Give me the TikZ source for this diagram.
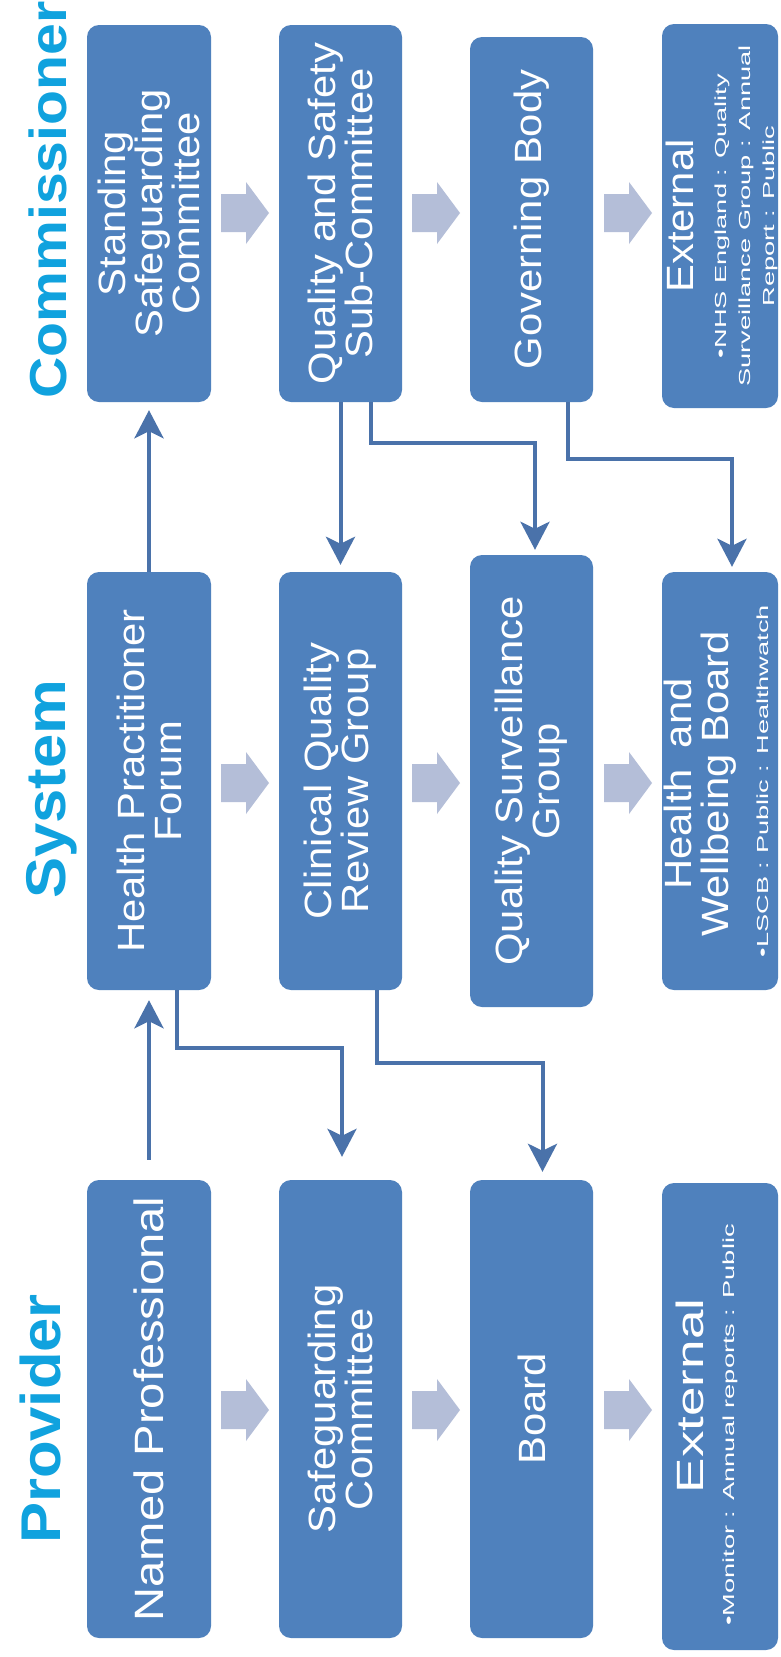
\documentclass[tikz,border=0pt]{standalone}
\usepackage{fontspec}
\setmainfont{Liberation Sans}
\usetikzlibrary{arrows.meta,calc}
\definecolor{boxblue}{RGB}{79,129,189}
\definecolor{linkblue}{RGB}{74,114,170}
\definecolor{ghost}{RGB}{180,190,216}
\definecolor{titlecyan}{RGB}{16,162,222}
\begin{document}
\begin{tikzpicture}[x=1pt,y=-1pt,
  box/.style={draw=none, fill=boxblue, rounded corners=12pt, inner sep=0pt},
  btext/.style={rotate=90, xscale=1.1, text=white, align=center, font=\fontsize{38}{37}\selectfont, inner sep=0pt},
  stext/.style={rotate=90, xscale=1.7, text=white, align=center, font=\fontsize{16}{24}\selectfont, inner sep=0pt},
  title/.style={rotate=90, xscale=1.1, text=titlecyan, anchor=base, inner sep=0pt},
  conn/.style={draw=linkblue, line width=4pt, -{Stealth[length=28pt,width=29pt,inset=7pt]}},
]
\useasboundingbox (0,0) rectangle (781,1657);
\fill[white] (0,0) rectangle (781,1657);

% titles
\node[title, font=\bfseries\fontsize{52}{52}\selectfont] (tc) at (66,200) {Commissioner};
\node[title, font=\bfseries\fontsize{56}{56}\selectfont] (ts) at (65,789) {System};
\node[title, font=\bfseries\fontsize{56}{56}\selectfont] (tp) at (60,1419) {Provider};

% commissioner boxes
\node[box, minimum width=124pt, minimum height=377pt] (c1) at (149,213.5) {};
\node[box, minimum width=123pt, minimum height=377pt] (c2) at (340.5,213.5) {};
\node[box, minimum width=123pt, minimum height=365pt] (c3) at (531.5,219.5) {};
\node[box, minimum width=116pt, minimum height=384pt] (c4) at (720,216) {};
% system boxes
\node[box, minimum width=124pt, minimum height=418pt] (s1) at (149,781) {};
\node[box, minimum width=123pt, minimum height=418pt] (s2) at (340.5,781) {};
\node[box, minimum width=123pt, minimum height=452pt] (s3) at (531.5,781) {};
\node[box, minimum width=116pt, minimum height=418pt] (s4) at (720,781) {};
% provider boxes
\node[box, minimum width=124pt, minimum height=458pt] (p1) at (149,1409) {};
\node[box, minimum width=123pt, minimum height=458pt] (p2) at (340.5,1409) {};
\node[box, minimum width=123pt, minimum height=458pt] (p3) at (531.5,1409) {};
\node[box, minimum width=116pt, minimum height=467pt] (p4) at (720,1416.5) {};

% box texts
\node[btext] (c1t) at (c1.center) {Standing\\Safeguarding\\Committee};
\node[btext] (c2t) at (c2.center) {Quality and Safety\\Sub-Committee};
\node[btext] (c3t) at (c3.center) {Governing Body};
\node[btext] (c4t) at (680,216) {External};
\node[stext] (c4s) at (746,216) {•NHS England : Quality\\Surveillance Group : Annual\\Report : Public};

\node[btext] (s1t) at (s1.center) {Health Practitioner\\Forum};
\node[btext] (s2t) at (s2.center) {Clinical Quality\\Review Group};
\node[btext] (s3t) at (s3.center) {Quality Surveillance\\Group};
\node[btext] (s4t) at (700,784) {Health\enspace and\\Wellbeing Board};
\node[stext] (s4s) at (763,781) {•LSCB : Public : Healthwatch};

\node[btext, xscale=1.15/1.1, font=\fontsize{41}{41}\selectfont] (p1t) at (p1.center) {Named Professional};
\node[btext] (p2t) at (p2.center) {Safeguarding\\Committee};
\node[btext] (p3t) at (p3.center) {Board};
\node[btext, xscale=1.27] (p4t) at (690,1396) {External};
\node[stext] (p4s) at (730,1425) {•Monitor : Annual reports : Public};

% grey progress arrows
\foreach \yc in {213,783,1410}{
  \foreach \xa in {221,412,604}{
    \fill[ghost] (\xa,\yc-19) -- (\xa+25,\yc-19) -- (\xa+25,\yc-31) -- (\xa+48,\yc)
      -- (\xa+25,\yc+31) -- (\xa+25,\yc+19) -- (\xa,\yc+19) -- cycle;
  }
}

% connectors
\draw[conn, shorten <=20pt, shorten >=10pt] (p1.north) -- (s1.south);
\draw[conn, shorten >=8pt] (s1.north) -- (c1.south);
\draw[conn, shorten >=7pt] (c2.south) -- (s2.north);
\draw[conn, shorten >=5pt] ([xshift=30pt]c2.south) -- ++(0,41) -| ([xshift=3.5pt]s3.north);
\draw[conn, shorten >=5pt] ([xshift=36pt]c3.south) -- ++(0,57) -| ([xshift=12pt]s4.north);
\draw[conn, shorten >=23pt] ([xshift=28pt]s1.south) -- ++(0,58) -| ([xshift=1.5pt]p2.north);
\draw[conn, shorten >=8pt] ([xshift=36.5pt]s2.south) -- ++(0,73) -| ([xshift=11pt]p3.north);
\end{tikzpicture}
\end{document}
